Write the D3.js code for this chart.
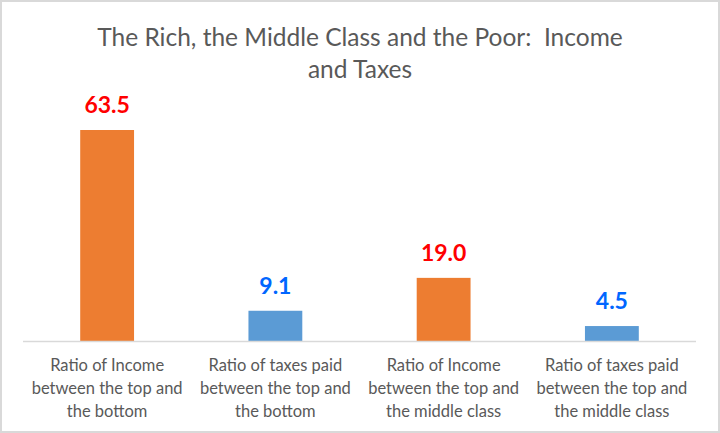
<!DOCTYPE html>
<html><head><meta charset="utf-8">
<script src="https://cdn.jsdelivr.net/npm/d3@7"></script>
<style>html,body{margin:0;padding:0;background:#fff;}</style>
</head><body>
<script>
const categories = [
  ["Ratio of Income", "between the top and", "the bottom"],
  ["Ratio of taxes paid", "between the top and", "the bottom"],
  ["Ratio of Income", "between the top and", "the middle class"],
  ["Ratio of taxes paid", "between the top and", "the middle class"]
];
const values = [63.5, 9.1, 19.0, 4.5];
const labels = ["63.5", "9.1", "19.0", "4.5"];
const barColors = ["#ED7D31", "#5B9BD5", "#ED7D31", "#5B9BD5"];
const labelColors = ["#FF0000", "#0066FF", "#FF0000", "#0066FF"];
const titleLines = ["The Rich, the Middle Class and the Poor:  Income", "and Taxes"];

const W = 720, H = 433;
const svg = d3.select("body").append("svg").attr("width", W).attr("height", H);
svg.append("rect").attr("x", 1).attr("y", 1).attr("width", W - 2).attr("height", H - 2)
  .attr("fill", "#fff").attr("stroke", "#D9D9D9").attr("stroke-width", 2);

const font = "Lato, 'Open Sans', sans-serif";
svg.append("g").selectAll("text").data(titleLines).join("text")
  .attr("x", 360).attr("y", (d, i) => 46 + i * 32)
  .attr("text-anchor", "middle").attr("fill", "#595959")
  .style("font-family", font).style("font-size", "24.5px")
  .style("white-space", "pre")
  .text(d => d);

const x = d3.scaleBand().domain(d3.range(values.length)).range([23, 696]).paddingInner(0.68).paddingOuter(0.34);
const y = d3.scaleLinear().domain([0, 63.5]).range([341, 130]);

svg.append("g").selectAll("rect").data(values).join("rect")
  .attr("x", (d, i) => x(i)).attr("width", x.bandwidth())
  .attr("y", d => y(d)).attr("height", d => y(0) - y(d))
  .attr("fill", (d, i) => barColors[i]);

svg.append("line").attr("x1", 23).attr("x2", 696).attr("y1", 341.5).attr("y2", 341.5)
  .attr("stroke", "#D9D9D9").attr("stroke-width", 1.5);

svg.append("g").selectAll("text").data(values).join("text")
  .attr("x", (d, i) => x(i) + x.bandwidth() / 2).attr("y", d => y(d) - 17)
  .attr("text-anchor", "middle").attr("fill", (d, i) => labelColors[i])
  .style("font-family", font).style("font-size", "23px").style("font-weight", "bold")
  .text((d, i) => labels[i]);

const cg = svg.append("g").selectAll("text").data(categories).join("text")
  .attr("text-anchor", "middle").attr("fill", "#595959")
  .style("font-family", font).style("font-size", "16.5px");
cg.each(function(d, i) {
  d3.select(this).selectAll("tspan").data(d).join("tspan")
    .attr("x", x(i) + x.bandwidth() / 2).attr("y", (t, j) => 371 + j * 23)
    .text(t => t);
});
</script>
</body></html>
